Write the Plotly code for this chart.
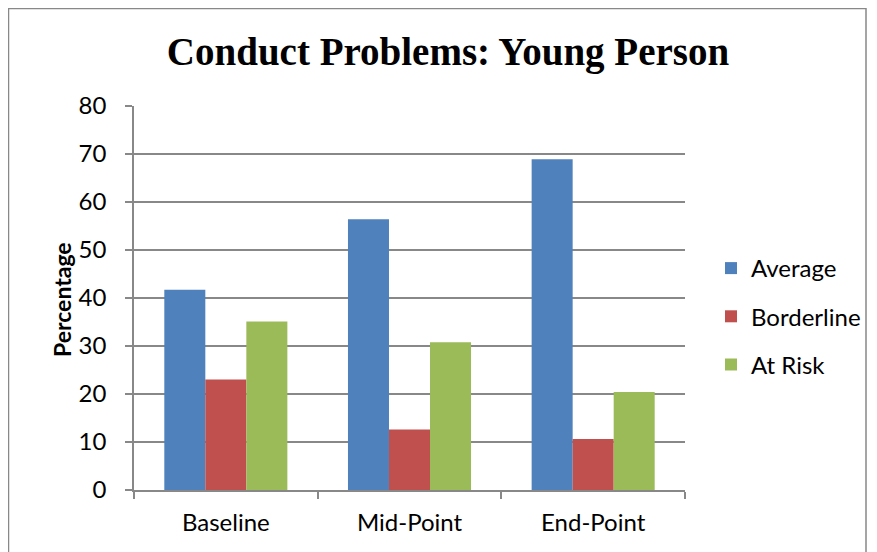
import plotly.graph_objects as go

categories = ["Baseline", "Mid-Point", "End-Point"]
average = [41.7, 56.4, 68.9]
borderline = [23.0, 12.6, 10.6]
at_risk = [35.1, 30.8, 20.4]
y_ticks = [0, 10, 20, 30, 40, 50, 60, 70, 80]

colors = {"Average": "#4F81BD", "Borderline": "#C0504D", "At Risk": "#9BBB59"}

fig = go.Figure()
for name, vals in [("Average", average), ("Borderline", borderline), ("At Risk", at_risk)]:
    fig.add_trace(go.Bar(x=categories, y=vals, name=name, legendgroup=name,
                         marker=dict(color=colors[name], line=dict(width=0))))

# page body has an 8px margin; figure is drawn offset by (8, 8)
OFF = 8
W, H = 885, 552 - OFF
PL, PR, PT, PB = 134, 685, 106, 490  # plot area in page pixels
L, R, T, B = PL - OFF, W - (PR - OFF), PT - OFF, H - (PB - OFF)
pw, ph = W - L - R, H - T - B

def px(x):
    return (x - OFF - L) / pw

def py(y):
    return (H - B - (y - OFF)) / ph

FONT = "Lato, Open Sans, sans-serif"

fig.update_layout(
    width=W, height=H,
    margin=dict(l=L, r=R, t=T, b=B, pad=0),
    paper_bgcolor="white", plot_bgcolor="white",
    barmode="group", bargap=0.33, bargroupgap=0,
    font=dict(family=FONT, size=24, color="#000000"),
    title=dict(text="<b>Conduct Problems: Young Person</b>",
               font=dict(family="Liberation Serif, serif", size=39, color="#000000"),
               x=px(448), xanchor="center", xref="paper", y=1 - (51 - OFF) / H, yanchor="middle"),
    legend=dict(x=px(711), y=py(246), xanchor="left", yanchor="top",
                font=dict(size=24), itemwidth=30, tracegroupgap=14,
                traceorder="grouped", bgcolor="rgba(0,0,0,0)"),
    xaxis=dict(showline=True, linecolor="#888888", linewidth=1.5,
               ticks="outside", tickson="boundaries", ticklen=7, tickcolor="#888888",
               tickwidth=1.5, showgrid=False, tickfont=dict(size=24), ticklabelstandoff=10),
    yaxis=dict(range=[0, 80], tickvals=y_ticks, showline=True, linecolor="#888888",
               linewidth=1.5, ticks="outside", ticklen=7, tickcolor="#888888",
               tickwidth=1.5, showgrid=True, gridcolor="#888888", gridwidth=1.5,
               zeroline=False, tickfont=dict(size=24), ticklabelstandoff=14),
    annotations=[dict(text="<b>Percentage</b>", textangle=-90, xref="paper", yref="paper",
                      x=px(62), y=py(300), xanchor="center", yanchor="middle",
                      showarrow=False, font=dict(size=23))],
    shapes=[dict(type="rect", xref="paper", yref="paper",
                 x0=px(8.5), x1=px(866), y0=py(600), y1=py(8.5),
                 line=dict(color="#888888", width=1.5), fillcolor="rgba(0,0,0,0)", layer="below")],
)

fig.write_html("out.html")
